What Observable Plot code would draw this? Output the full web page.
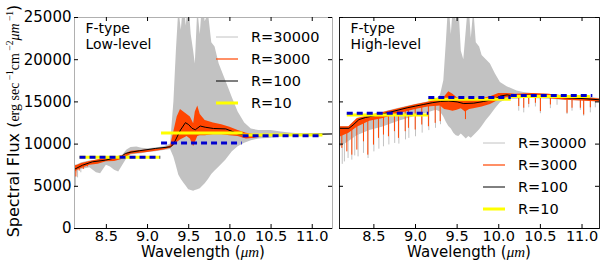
<!DOCTYPE html>
<html><head><meta charset="utf-8">
<script src="https://cdn.jsdelivr.net/npm/d3@7"></script>
<script src="https://cdn.jsdelivr.net/npm/@observablehq/plot@0.6"></script>
<style>
body{margin:0;background:#fff;}
#wrap{position:relative;width:600px;height:261px;display:flex;}
</style></head><body><div id="wrap"></div>
<script>
// ---------- shared ----------
const xTicks = [8.5, 9.0, 9.5, 10.0, 10.5, 11.0];
const yTicks = [0, 5000, 10000, 15000, 20000, 25000];
const legendLabels = ["R=30000", "R=3000", "R=100", "R=10"];

// ---------- left panel: F-type Low-level ----------
const L_grayX  = [8.11,8.125,8.15,8.2,8.3,8.38,8.43,8.5,8.55,8.6,8.65,8.7,8.75,8.8,8.87,8.93,9.0,9.1,9.2,9.28,9.32,9.35,9.38,9.41,9.44,9.47,9.5,9.53,9.56,9.58,9.61,9.64,9.67,9.7,9.74,9.78,9.82,9.87,9.95,10.03,10.1,10.18,10.26,10.35,10.5,10.6,10.7,10.8,11.25];
const L_grayHi = [7400,7500,7550,7800,8000,8100,8150,8300,8350,8450,8500,8700,9300,9600,9650,9500,9450,9550,9700,10000,15000,21000,26000,23500,27000,24000,27000,23000,21000,19500,26000,23000,27000,24500,25500,22000,21500,19500,17500,15500,13800,12500,11800,11600,11600,11450,11350,11250,11250];
const L_grayLo = [6800,6000,6900,7000,7200,6600,6500,7500,7300,6900,6700,7500,8300,8700,8800,8850,9000,9100,9250,9350,8450,7400,6300,5800,5400,5000,4600,4500,4400,4500,4600,4700,5000,5300,5800,6400,6800,7300,8100,9100,9700,10100,10400,10600,10700,10800,10900,11000,11100];
const L_graySpX  = [8.125, 8.15, 8.19];
const L_graySpLo = [4900, 6000, 6600];
const L_graySpHi = [7400, 7500, 7700];

const L_orX  = [8.11,8.15,8.2,8.3,8.4,8.5,8.6,8.7,8.8,9.0,9.2,9.28,9.32,9.36,9.4,9.44,9.48,9.52,9.56,9.58,9.61,9.64,9.7,9.8,9.9,10.0,10.1,10.2,10.3,10.4];
const L_orHi = [7400,7500,7700,7950,8150,8250,8450,8650,9150,9300,9500,9800,11500,13200,14100,13800,13500,13200,12400,13800,14500,13500,12800,12500,12300,12000,11600,11300,11100,11050];
const L_orLo = [6600,6900,7100,7500,7600,7900,7950,8200,8800,9000,9300,9500,9800,10200,10500,10700,10900,10600,9700,10200,10900,11000,11000,11100,11100,11000,10900,10600,10700,10900];
const L_orSpX  = [8.13, 8.17, 8.22, 8.27];
const L_orSpLo = [6100, 6800, 7000, 7300];
const L_orSpHi = [7300, 7400, 7600, 7750];

const L_r100X = [8.11,8.21,8.33,8.49,8.61,8.68,8.73,8.8,8.9,9.1,9.28,9.31,9.34,9.4,9.46,9.5,9.54,9.58,9.64,9.7,9.8,9.95,10.03,10.1,10.2,10.4,10.7,11.0,11.25];
const L_r100Y = [7000,7500,7900,8100,8370,8500,8890,9050,9210,9490,9680,9950,10480,11670,12540,12300,11870,11700,12140,12000,11850,11800,11500,11200,11050,11050,11100,11150,11200];

const L_r10Start = [8.18, 9.17, 10.16];
const L_r10End   = [9.16, 10.16, 11.13];
const L_r10Val   = [8450, 11310, 11070];

const L_blueStart = [8.18, 9.17, 10.16];
const L_blueEnd   = [9.16, 10.15, 11.13];
const L_blueVal   = [8450, 10120, 11000];

// ---------- right panel: F-type High-level ----------
const R_grayX  = [8.09,8.2,8.3,8.45,8.6,8.8,9.0,9.15,9.25,9.3,9.34,9.37,9.4,9.43,9.46,9.49,9.52,9.55,9.58,9.61,9.64,9.67,9.7,9.73,9.77,9.8,9.85,9.9,9.96,10.02,10.1,10.22,10.3,10.4,10.6,10.8,11.0,11.21];
const R_grayHi = [12050,12050,13050,13400,13750,14250,14700,15000,15250,15800,17500,22000,27000,23000,27000,24500,26500,21000,20000,23500,27000,22500,26000,22000,21500,20500,20000,19500,18300,17300,16800,16300,16100,16000,15900,15700,15600,15400];
const R_grayLo = [9600,10300,11000,11600,12000,12700,13300,13700,14000,13800,13200,12600,12100,11800,11300,11000,10900,11200,10900,10600,10900,10700,11000,11300,11700,12100,12800,13400,14200,14900,15300,15300,15400,15400,15300,15200,15100,15000];
const R_graySpX  = [8.12,8.146,8.19,8.235,8.27,8.31,8.375,8.43,8.5,8.56,8.615,8.68,8.75,8.8,8.88,8.92,9.0,9.08,9.16,9.24,9.3,10.24,10.3,10.36,10.44,10.5,10.62,10.7,10.82,10.88,10.98,11.02,11.1,11.16];
const R_graySpLo = [7600,7890,8300,8100,8600,8490,8900,8290,9080,9400,9680,9900,10080,10000,10500,10680,10870,11300,11600,11870,12300,13900,13700,14300,14400,13600,14200,14600,13500,13900,14000,13300,13700,14300];
const R_graySpHi = [11870,11870,11870,12100,12450,12850,13100,13200,13350,13450,13600,13750,13900,14050,14250,14350,14500,14650,14800,14950,15050,15650,15700,15800,15780,15720,15650,15600,15500,15480,15420,15400,15330,15280];

const R_orX  = [8.09,8.2,8.3,8.45,8.6,8.8,9.0,9.15,9.3,9.35,9.4,9.45,9.5,9.55,9.6,9.65,9.7,9.8,9.9,10.0,10.1,10.2,10.4,10.6,10.8,11.0,11.21];
const R_orHi = [12050,12050,13000,13350,13700,14200,14650,14950,15300,15600,16200,15900,15500,15300,15200,15500,15400,15400,15600,16000,16000,15900,16000,15900,15700,15550,15350];
const R_orLo = [10800,11300,12000,12700,13000,13600,14100,14400,14500,14100,14000,13900,14000,14200,13800,14100,14200,14400,14700,15200,15500,15400,15500,15400,15200,15100,15000];
const R_orSpX  = [8.115,8.175,8.235,8.295,8.375,8.427,8.495,8.555,8.615,8.675,8.747,8.795,8.876,8.915,8.996,9.075,9.155,9.236,9.296,9.6,10.24,10.3,10.36,10.44,10.5,10.62,10.82,10.88,10.98,11.02,11.1];
const R_orSpLo = [9490,9080,8690,9290,10270,8690,9880,10680,11070,10870,11470,10680,11470,11870,11670,12260,12060,12460,12660,12900,14450,14250,14700,14840,13850,14640,13650,14250,14250,13450,14300];
const R_orSpHi = [11870,11870,12100,12700,13100,13250,13350,13450,13600,13750,13950,14050,14250,14350,14500,14650,14800,14950,15050,14800,15650,15700,15800,15780,15720,15650,15500,15480,15420,15400,15330];

const R_r100X = [8.09,8.2,8.25,8.32,8.4,8.5,8.6,8.7,8.8,8.9,9.0,9.1,9.2,9.3,9.4,9.5,9.58,9.7,9.82,9.94,10.02,10.1,10.22,10.34,10.54,10.78,11.0,11.21];
const R_r100Y = [11870,11870,12260,12900,13150,13350,13550,13800,14050,14300,14500,14700,14900,15050,15100,15000,14800,14850,15050,15300,15700,15830,15650,15800,15700,15500,15400,15250];

const R_r10Start = [8.18, 9.16, 10.15];
const R_r10End   = [9.16, 10.15, 11.1];
const R_r10Val   = [13450, 15320, 15630];

const R_blueStart = [8.18, 9.16, 10.15];
const R_blueEnd   = [9.16, 10.15, 11.13];
const R_blueVal   = [13650, 15510, 15750];

// ---------- helpers ----------
const GRAY = "#c2c2c2", ORANGE = "#ff4500", YELLOW = "#ffff00", BLUE = "#0000cd";
const legendColors = [GRAY, ORANGE, "#000000", YELLOW];
const legendWidths = [1, 1.2, 1, 3];
function rows(keys, ...cols) {
  return cols[0].map((_, i) => Object.fromEntries(keys.map((k, j) => [k, cols[j][i]])));
}
const H = 261, MT = 17, MB = 33;

function panel(cfg) {
  const gray = rows(["x","lo","hi"], cfg.grayX, cfg.grayLo, cfg.grayHi);
  const graySp = rows(["x","lo","hi"], cfg.graySpX, cfg.graySpLo, cfg.graySpHi);
  const orr = rows(["x","lo","hi"], cfg.orX, cfg.orLo, cfg.orHi);
  const orSp = rows(["x","lo","hi"], cfg.orSpX, cfg.orSpLo, cfg.orSpHi);
  const r100 = rows(["x","y"], cfg.r100X, cfg.r100Y);
  const r10 = rows(["a","b","v"], cfg.r10Start, cfg.r10End, cfg.r10Val);
  const blue = rows(["a","b","v"], cfg.blueStart, cfg.blueEnd, cfg.blueVal);
  const pw = cfg.width - cfg.ml - cfg.mr, ph = H - MT - MB;
  const svg = Plot.plot({
    width: cfg.width, height: H,
    marginLeft: cfg.ml, marginRight: cfg.mr, marginTop: MT, marginBottom: MB,
    x: {domain: cfg.xDomain, axis: null},
    y: {domain: [0, 25000], axis: null},
    style: {fontFamily: "DejaVu Sans", fontSize: "15px", background: "white", overflow: "visible", color: "black"},
    marks: [
      Plot.areaY(gray, {x: "x", y1: "lo", y2: "hi", fill: GRAY, clip: true}),
      Plot.ruleX(graySp, {x: "x", y1: "lo", y2: "hi", stroke: GRAY, strokeWidth: 1, clip: true}),
      Plot.areaY(orr, {x: "x", y1: "lo", y2: "hi", fill: ORANGE, clip: true}),
      Plot.ruleX(orSp, {x: "x", y1: "lo", y2: "hi", stroke: ORANGE, strokeWidth: 1, clip: true}),
      Plot.line(r100, {x: "x", y: "y", stroke: "black", strokeWidth: 1, clip: true}),
      Plot.ruleY(r10, {x1: "a", x2: "b", y: "v", stroke: YELLOW, strokeWidth: 3}),
      Plot.ruleY(blue, {x1: "a", x2: "b", y: "v", stroke: BLUE, strokeWidth: 3, strokeDasharray: "6,4"}),
      Plot.frame({stroke: cfg.frame}),
      Plot.ruleY([0], {stroke: "black"}),
      Plot.tickX(xTicks, {x: d => d, insetTop: ph - 4, stroke: "black"}),
      Plot.tickX(xTicks, {x: d => d, insetBottom: ph - 4, stroke: "black"}),
      Plot.tickY(yTicks, {y: d => d, insetRight: pw - 4, stroke: "black"}),
      Plot.tickY(yTicks, {y: d => d, insetLeft: pw - 4, stroke: "black"}),
      Plot.text(xTicks, {x: d => d, frameAnchor: "bottom", dy: 7.5, lineAnchor: "middle",
        text: d => d.toFixed(1), fontSize: 14.5, fill: "black"}),
      cfg.yLabels ? Plot.axisY({ticks: yTicks, tickFormat: "d", tickSize: 0, tickPadding: 3, label: null}) : null,
      Plot.text([cfg.title], {frameAnchor: "top-left", dx: 11, dy: 4, lineAnchor: "top", lineHeight: 1.15,
        text: d => d, fontSize: 14, fill: "black"})
    ]
  });
  const s = d3.select(svg);
  legendLabels.forEach((lab, i) => {
    const y = cfg.legY[i];
    s.append("line").attr("x1", cfg.legX).attr("x2", cfg.legX + 22).attr("y1", y).attr("y2", y)
      .attr("stroke", legendColors[i]).attr("stroke-width", legendWidths[i]);
    s.append("text").attr("x", cfg.legX + 35).attr("y", y).attr("dy", "0.36em")
      .attr("text-anchor", "start").attr("font-size", 14.5).attr("fill", "black").text(lab);
  });
  // x-axis title
  const xt = s.append("text").attr("x", cfg.ml + pw / 2).attr("y", 252).attr("dy", "0.35em")
    .attr("text-anchor", "middle").attr("font-size", 15).attr("fill", "black");
  xt.append("tspan").text("Wavelength (");
  xt.append("tspan").attr("font-family", "Liberation Serif").attr("font-style", "italic").text("μm");
  xt.append("tspan").text(")");
  return svg;
}

const left = panel({
  width: 335, ml: 74, mr: 3, xDomain: [8.113, 11.246], frame: "#b0b0b0", yLabels: true,
  title: "F-type\nLow-level",
  grayX: L_grayX, grayLo: L_grayLo, grayHi: L_grayHi,
  graySpX: L_graySpX, graySpLo: L_graySpLo, graySpHi: L_graySpHi,
  orX: L_orX, orLo: L_orLo, orHi: L_orHi,
  orSpX: L_orSpX, orSpLo: L_orSpLo, orSpHi: L_orSpHi,
  r100X: L_r100X, r100Y: L_r100Y,
  r10Start: L_r10Start, r10End: L_r10End, r10Val: L_r10Val,
  blueStart: L_blueStart, blueEnd: L_blueEnd, blueVal: L_blueVal,
  legX: 216, legY: [37, 59, 81, 103]
});
const right = panel({
  width: 265, ml: 4, mr: 1, xDomain: [8.087, 11.21], frame: "#222222", yLabels: false,
  title: "F-type\nHigh-level",
  grayX: R_grayX, grayLo: R_grayLo, grayHi: R_grayHi,
  graySpX: R_graySpX, graySpLo: R_graySpLo, graySpHi: R_graySpHi,
  orX: R_orX, orLo: R_orLo, orHi: R_orHi,
  orSpX: R_orSpX, orSpLo: R_orSpLo, orSpHi: R_orSpHi,
  r100X: R_r100X, r100Y: R_r100Y,
  r10Start: R_r10Start, r10End: R_r10End, r10Val: R_r10Val,
  blueStart: R_blueStart, blueEnd: R_blueEnd, blueVal: R_blueVal,
  legX: 148, legY: [143, 165, 187, 209]
});

// y-axis title with superscripts
const ls = d3.select(left);
const serif = "Liberation Serif";
const t = ls.append("text").attr("transform", "translate(13,121) rotate(-90)")
  .attr("text-anchor", "middle").attr("dy", "0.35em").attr("font-size", 16).attr("fill", "black");
t.append("tspan").text("Spectral Flux (");
t.append("tspan").attr("font-family", serif).attr("font-size", 14).text("erg sec");
t.append("tspan").attr("font-family", serif).attr("font-size", 9.5).attr("dy", -6).text(" −1");
t.append("tspan").attr("font-family", serif).attr("font-size", 14).attr("dy", 6).text("cm");
t.append("tspan").attr("font-family", serif).attr("font-size", 9.5).attr("dy", -6).text(" −2");
t.append("tspan").attr("font-family", serif).attr("font-size", 14).attr("font-style", "italic").attr("dy", 6).text("μm");
t.append("tspan").attr("font-family", serif).attr("font-size", 9.5).attr("dy", -6).text(" −1");
t.append("tspan").attr("dy", 6).text(")");

const wrap = document.getElementById("wrap");
wrap.appendChild(left);
wrap.appendChild(right);
</script></body></html>
